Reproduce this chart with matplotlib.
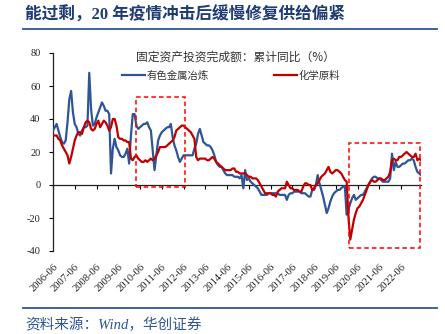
import matplotlib
matplotlib.use("Agg")
import matplotlib.pyplot as plt
from matplotlib.patches import Rectangle

# ---- data (monthly, starting 2006-06) ----
nonferrous = [
    33, 35, 37, 33, 29, 26, 25, 27, 38, 52, 57, 44,
    37, 35, 31, 30, 33, 35, 35, 36, 68, 46, 36, 37,
    41, 44, 47, 50, 48, 45, 45, 43, 7, 22, 28, 23,
    21, 18, 17, 17, 19, 22, 13, 30, 43, 43, 36, 34,
    35, 36, 37, 37, 38, 35, 33, 21, 9, 18, 27, 30,
    32, 33, 34, 35, 35, 37, 29, 24, 21, 17, 14, 16,
    18, 18, 18, 18, 18, 18, 22, 25, 31, 34, 30, 26,
    25, 24, 24, 23, 21, 18, 14, 12, 11, 11, 9, 7,
    6, 6, 6, 6, 5, 5, 5, 4, 6, -2, 9, 3,
    4, 2, 1, 0, -1, -2, -4, -6, -6, -6, -6, -5,
    -5, -5, -5, -5, -5, -6, -6, -6, -6, -9, -6, -5,
    -5, -4, -4, -4, -4, -5, -5, -5, -6, -7, -7, -3,
    -3, 0, 6, 1, -3, -7, -12, -17, -14, -10, -7, -5,
    -4, -3, -3, -2, -1, -1, -18, -15, -11, -8, -6, -9,
    -8, -7, -6, -6, -4, -2, 0, 2, 4, 5, 5, 4,
    4, 3, 2, 2, 2, 2, 4, 19, 9, 14, 11, 11,
    12, 13, 13, 14, 15, 15, 16, 15, 11, 8, 7, 6,
]
chemical = [
    30, 30, 30, 28, 27, 24, 22, 20, 18, 13, 17, 22,
    27, 30, 32, 32, 31, 35, 38, 39, 38, 34, 33, 34,
    37, 39, 35, 37, 39, 38, 36, 33, 35, 40, 40, 36,
    29, 28, 28, 27, 27, 26, 26, 16, 15, 17, 18, 16,
    15, 14, 14, 15, 14, 15, 16, 15, 16, 18, 20, 23,
    23, 23, 23, 24, 25, 26, 27, 29, 33, 34, 35, 36,
    36, 35, 34, 33, 32, 30, 28, 17, 15, 16, 16, 16,
    16, 15, 15, 16, 17, 16, 14, 13, 12, 11, 10, 9,
    9, 9, 9, 10, 10, 8, 8, 7, 7, 7, 7, 6,
    5, 5, 4, 4, 4, 3, 1, -1, -3, -5, -5, -5,
    -5, -6, -6, -7, -4, -3, -2, -2, -2, 2, 0, -2,
    -2, -3, -3, -3, -4, -4, -1, 1, 1, 0, 0, -3,
    -2, 0, 1, 3, 5, 6, 7, 9, 11, 8, 7, 8,
    9, 9, 8, 7, 5, 3, 2, -20, -33, -27, -21, -17,
    -14, -13, -11, -9, -6, -3, 0, 2, 3, 2, 2, 3,
    4, 4, 3, 3, 4, 5, 8, 15, 16, 15, 15, 17,
    17, 18, 19, 20, 19, 18, 17, 17, 19, 15, 16, 15,
]
years = list(range(2006, 2023))
tick_labels = [f"{y}-06" for y in years]
series_names = ["有色金属冶炼", "化学原料"]
chart_title = "固定资产投资完成额：累计同比（%）"
page_title = "能过剩，20 年疫情冲击后缓慢修复供给偏紧"
source_text = "资料来源：Wind，华创证券"
# highlighted periods: (start index, end index, low, high)
highlights = [(46.0, 72.8, -1.4, 53.5), (163.4, 202.2, -38.0, 25.3)]

SERIF_CJK = ["Liberation Serif", "Noto Sans CJK SC"]
CJK = ["Noto Sans CJK SC", "DejaVu Sans"]

fig = plt.figure(figsize=(4.45, 3.34), dpi=100)
W, H = 445, 334
ax = fig.add_axes([53 / W, 1 - 251 / H, (421 - 53) / W, (251 - 53) / H])

x = list(range(len(nonferrous)))
ax.plot(x, nonferrous, color="#2F5597", lw=1.6, label=series_names[0], zorder=3)
ax.plot(x, chemical, color="#C00000", lw=1.6, label=series_names[1], zorder=4)

ax.set_xlim(0, 203)
ax.set_ylim(-40, 80)
ax.set_yticks([-40, -20, 0, 20, 40, 60, 80])
ax.set_yticklabels(["-40", "-20", "0", "20", "40", "60", "80"],
                   family=SERIF_CJK, fontsize=7.5, color="#222222")
ax.tick_params(axis="y", direction="out", length=3, width=0.8, pad=6)

for s in ["top", "right"]:
    ax.spines[s].set_visible(False)
ax.spines["left"].set_color("#222222")
ax.spines["left"].set_linewidth(0.9)
ax.spines["bottom"].set_position(("data", 0))
ax.spines["bottom"].set_color("#222222")
ax.spines["bottom"].set_linewidth(0.9)

tick_pos = [12 * i for i in range(len(years))]
ax.set_xticks(tick_pos)
ax.tick_params(axis="x", direction="out", length=3, width=0.8, labelbottom=False)

sec = ax.secondary_xaxis(0)
sec.set_xticks(tick_pos)
sec.set_xticklabels(tick_labels, rotation=45, ha="right", rotation_mode="anchor",
                    family=SERIF_CJK, fontsize=7.6, color="#222222")
sec.tick_params(length=0, pad=8)
sec.spines["bottom"].set_visible(False)

for (x0, x1, y0, y1) in highlights:
    ax.add_patch(Rectangle((x0, y0), x1 - x0, y1 - y0, fill=False,
                           edgecolor="#FF0000", lw=1.1, linestyle=(0, (3, 2)),
                           clip_on=False, zorder=5))

ax.text(0.495, 0.98, chart_title, transform=ax.transAxes, ha="center", va="center",
        family=CJK, fontsize=8.5, color="#333333")
leg = ax.legend(loc="center", bbox_to_anchor=(0.484, 0.884), ncol=2, frameon=False,
                prop={"family": CJK, "size": 7.5}, handlelength=2.2,
                handletextpad=0.2, columnspacing=6.2)
for t in leg.get_texts():
    t.set_color("#333333")

# page title and rules
fig.text(25 / W, 1 - 15 / H, page_title, ha="left", va="center",
         family=SERIF_CJK, fontsize=12, fontweight="bold", color="#1F3C74")
fig.add_artist(plt.Line2D([23 / W, 437 / W], [1 - 29 / H, 1 - 29 / H],
                          color="#2F5597", lw=1.3))
fig.add_artist(plt.Line2D([23 / W, 437 / W], [1 - 308 / H, 1 - 308 / H],
                          color="#2F5597", lw=1.3))
fig.text(25 / W, 1 - 325 / H, source_text, ha="left", va="center",
         family=SERIF_CJK, fontsize=10.5, style="italic", color="#2F5597")

fig.savefig("out.png", dpi=100)
